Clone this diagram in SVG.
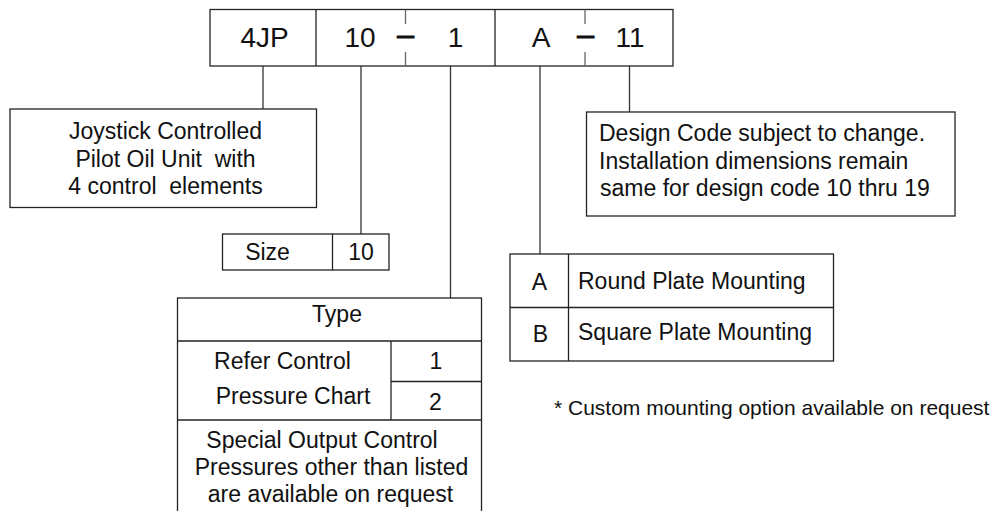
<svg xmlns="http://www.w3.org/2000/svg" width="998" height="511" viewBox="0 0 998 511">
<style>
.box{fill:#fff;stroke:#222;stroke-width:1.3}
.ln{stroke:#222;stroke-width:1.3;fill:none}
.tick{stroke:#666;stroke-width:1.3}
.conn line{stroke:#333;stroke-width:1.3}
text{font-family:"Liberation Sans",Arial,Helvetica,sans-serif;fill:#111}
.big{font-size:28px;text-anchor:middle}
.dash{font-size:30px;text-anchor:middle;stroke:#111;stroke-width:1.2}
.t{font-size:23px}
.c{text-anchor:middle}
.note{font-size:21px}
</style>
<rect width="998" height="511" fill="#fff"/>
<g id="connectors" class="conn">
<line x1="263" y1="66" x2="263" y2="109"/>
<line x1="361" y1="66" x2="361" y2="234"/>
<line x1="450.5" y1="66" x2="450.5" y2="298"/>
<line x1="540" y1="66" x2="540" y2="254"/>
<line x1="629.5" y1="66" x2="629.5" y2="112"/>
</g>
<g id="code">
<rect class="box" x="210" y="9.5" width="463" height="56.5"/>
<line class="ln" x1="316" y1="9.5" x2="316" y2="66"/>
<line class="ln" x1="495" y1="9.5" x2="495" y2="66"/>
<line class="tick" x1="405.5" y1="9.5" x2="405.5" y2="24"/>
<line class="tick" x1="405.5" y1="52" x2="405.5" y2="66"/>
<line class="tick" x1="585" y1="9.5" x2="585" y2="24"/>
<line class="tick" x1="585" y1="52" x2="585" y2="66"/>
<text class="big" x="264.5" y="46.5">4JP</text>
<text class="big" x="360" y="46.5">10</text>
<text class="dash" x="405.5" y="45">–</text>
<text class="big" x="455.5" y="46.5">1</text>
<text class="big" x="541" y="46.5">A</text>
<text class="dash" x="585.5" y="45">–</text>
<text class="big" x="630" y="46.5">11</text>
</g>
<g id="unit">
<rect class="box" x="10" y="109" width="306.5" height="98.5"/>
<text class="t c" x="165.5" y="139">Joystick Controlled</text>
<text class="t c" x="165.5" y="166.5" xml:space="preserve">Pilot Oil Unit  with</text>
<text class="t c" x="165.5" y="194" xml:space="preserve">4 control  elements</text>
</g>
<g id="size">
<rect class="box" x="222.5" y="234" width="166.5" height="36"/>
<line class="ln" x1="332.5" y1="234" x2="332.5" y2="270"/>
<text class="t c" x="267.5" y="260">Size</text>
<text class="t c" x="361" y="260">10</text>
</g>
<g id="type">
<rect class="box" x="177.5" y="298" width="304" height="230"/>
<line class="ln" x1="177.5" y1="341" x2="481.5" y2="341"/>
<line class="ln" x1="177.5" y1="420" x2="481.5" y2="420"/>
<line class="ln" x1="391" y1="341" x2="391" y2="420"/>
<line class="ln" x1="391" y1="381.5" x2="481.5" y2="381.5"/>
<text class="t c" x="337" y="321.5">Type</text>
<text class="t c" x="282.5" y="369">Refer Control</text>
<text class="t c" x="293" y="404">Pressure Chart</text>
<text class="t c" x="436" y="369">1</text>
<text class="t c" x="435.5" y="410">2</text>
<text class="t c" x="322" y="447.5">Special Output Control</text>
<text class="t c" x="331.5" y="475">Pressures other than listed</text>
<text class="t c" x="330.5" y="502">are available on request</text>
</g>
<g id="mounting">
<rect class="box" x="510" y="254" width="323.5" height="107"/>
<line class="ln" x1="510" y1="307.5" x2="833.5" y2="307.5"/>
<line class="ln" x1="568.5" y1="254" x2="568.5" y2="361"/>
<text class="t c" x="539.5" y="290">A</text>
<text class="t c" x="540.5" y="342">B</text>
<text class="t" x="578" y="288.5">Round Plate Mounting</text>
<text class="t" x="578" y="340">Square Plate Mounting</text>
</g>
<g id="design">
<rect class="box" x="586.5" y="112" width="368.5" height="104"/>
<text class="t" x="599" y="140.5">Design Code subject to change.</text>
<text class="t" x="599" y="168.5">Installation dimensions remain</text>
<text class="t" x="600" y="196">same for design code 10 thru 19</text>
</g>
<g id="custom">
<text class="note" x="554" y="415">* Custom mounting option available on request</text>
</g>
</svg>
